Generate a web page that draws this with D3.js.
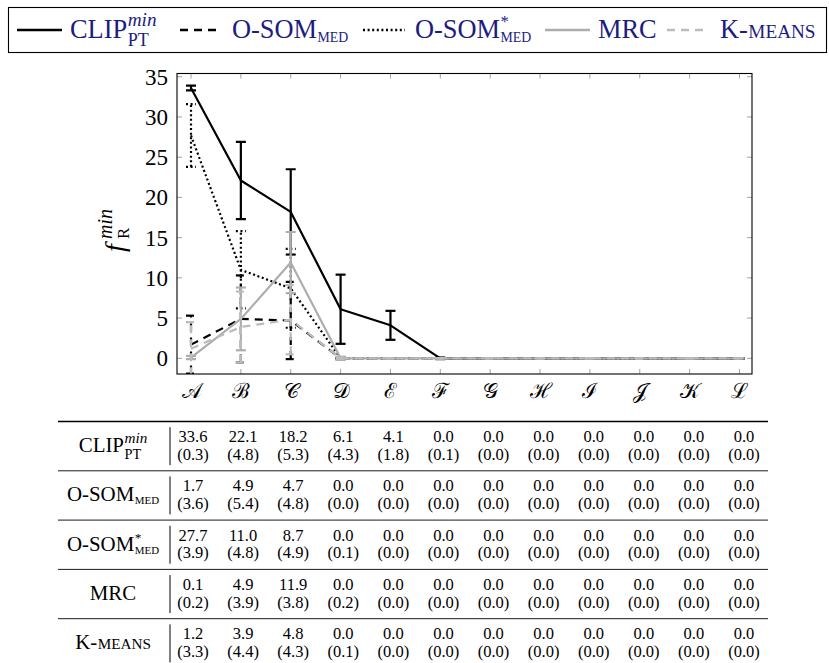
<!DOCTYPE html>
<html>
<head>
<meta charset="utf-8">
<script src="https://cdn.jsdelivr.net/npm/d3@7"></script>
<style>
  body { margin: 0; background: #fff; }
</style>
</head>
<body>
<svg id="chart" width="829" height="663"></svg>
<script>
// categories on the x axis
var categories = ["𝒜", "ℬ", "𝒞", "𝒟", "ℰ", "ℱ", "𝒢", "ℋ", "ℐ", "𝒥", "𝒦", "ℒ"];
var yTicks = [0, 5, 10, 15, 20, 25, 30, 35];

// mean values and std (the number in brackets)
var clipMean   = [33.6, 22.1, 18.2, 6.1, 4.1, 0.0, 0.0, 0.0, 0.0, 0.0, 0.0, 0.0];
var clipStd    = [0.3, 4.8, 5.3, 4.3, 1.8, 0.1, 0.0, 0.0, 0.0, 0.0, 0.0, 0.0];
var osomMean   = [1.7, 4.9, 4.7, 0.0, 0.0, 0.0, 0.0, 0.0, 0.0, 0.0, 0.0, 0.0];
var osomStd    = [3.6, 5.4, 4.8, 0.0, 0.0, 0.0, 0.0, 0.0, 0.0, 0.0, 0.0, 0.0];
var osomsMean  = [27.7, 11.0, 8.7, 0.0, 0.0, 0.0, 0.0, 0.0, 0.0, 0.0, 0.0, 0.0];
var osomsStd   = [3.9, 4.8, 4.9, 0.1, 0.0, 0.0, 0.0, 0.0, 0.0, 0.0, 0.0, 0.0];
var mrcMean    = [0.1, 4.9, 11.9, 0.0, 0.0, 0.0, 0.0, 0.0, 0.0, 0.0, 0.0, 0.0];
var mrcStd     = [0.2, 3.9, 3.8, 0.2, 0.0, 0.0, 0.0, 0.0, 0.0, 0.0, 0.0, 0.0];
var kmeansMean = [1.2, 3.9, 4.8, 0.0, 0.0, 0.0, 0.0, 0.0, 0.0, 0.0, 0.0, 0.0];
var kmeansStd  = [3.3, 4.4, 4.3, 0.1, 0.0, 0.0, 0.0, 0.0, 0.0, 0.0, 0.0, 0.0];

// label pieces: text, size, vertical shift, italic, restart at previous x (stacked)
var labelClip   = [{t: "CLIP", s: 22}, {t: "min", s: 16, dy: -10, it: true}, {t: "PT", s: 15, dy: 7, back: true}];
var labelOsom   = [{t: "O-SOM", s: 22}, {t: "MED", s: 11.5, dy: 3}];
var labelOsoms  = [{t: "O-SOM", s: 22}, {t: "*", s: 14, dy: -9}, {t: "MED", s: 11.5, dy: 3, back: true}];
var labelMrc    = [{t: "MRC", s: 22}];
var labelKmeans = [{t: "K-", s: 22}, {t: "MEANS", s: 16}];

var series = [
    {mean: clipMean,   std: clipStd,   label: labelClip,   color: "#000", dash: null},
    {mean: osomMean,   std: osomStd,   label: labelOsom,   color: "#000", dash: "8,6"},
    {mean: osomsMean,  std: osomsStd,  label: labelOsoms,  color: "#000", dash: "2,2.6"},
    {mean: mrcMean,    std: mrcStd,    label: labelMrc,    color: "#adadad", dash: null},
    {mean: kmeansMean, std: kmeansStd, label: labelKmeans, color: "#bcbcbc", dash: "8,6"}
];

var FONT = "Liberation Serif";
var svg = d3.select("#chart");

// draws text runs with sub/superscripts, returns the group
function richText(parent, x, y, runs, scale, color, anchor) {
    var g = parent.append("g");
    var cx = 0, prevX = 0, maxEnd = 0;
    runs.forEach(function(r) {
        var startX = r.back ? prevX : cx;
        var t = g.append("text")
            .attr("x", startX)
            .attr("y", (r.dy || 0) * scale)
            .style("font-family", FONT)
            .style("font-size", (r.s * scale) + "px")
            .style("font-style", r.it ? "italic" : "normal")
            .attr("fill", color)
            .text(r.t);
        var w = t.node().getComputedTextLength();
        prevX = startX;
        maxEnd = Math.max(maxEnd, startX + w);
        cx = maxEnd + 0.5;
    });
    var off = 0;
    if (anchor == "middle") off = -maxEnd / 2;
    if (anchor == "end") off = -maxEnd;
    g.attr("transform", "translate(" + (x + off) + "," + y + ")");
    return g;
}

// ---- plot ----
var plot = {left: 177, right: 752, top: 73.5, bottom: 374};

var xScale = d3.scalePoint()
    .domain(categories)
    .range([191, 739.5]);

var yScale = d3.scaleLinear()
    .domain([-1.95, 35.4])
    .range([plot.bottom, plot.top]);

svg.append("clipPath").attr("id", "clip")
    .append("rect")
    .attr("x", plot.left).attr("y", plot.top)
    .attr("width", plot.right - plot.left)
    .attr("height", plot.bottom - plot.top);

// ticks inside the box
var tickG = svg.append("g").attr("stroke", "#8a8a8a").attr("stroke-width", 0.8);
categories.forEach(function(c) {
    tickG.append("line").attr("x1", xScale(c)).attr("x2", xScale(c))
        .attr("y1", plot.bottom).attr("y2", plot.bottom - 5);
    tickG.append("line").attr("x1", xScale(c)).attr("x2", xScale(c))
        .attr("y1", plot.top).attr("y2", plot.top + 5);
});
yTicks.forEach(function(v) {
    tickG.append("line").attr("x1", plot.left).attr("x2", plot.left + 5)
        .attr("y1", yScale(v)).attr("y2", yScale(v));
    tickG.append("line").attr("x1", plot.right).attr("x2", plot.right - 5)
        .attr("y1", yScale(v)).attr("y2", yScale(v));
});

// y axis labels
svg.append("g")
    .attr("transform", "translate(" + plot.left + ",0)")
    .call(d3.axisLeft(yScale).tickValues(yTicks).tickSize(0).tickPadding(9))
    .call(function(g) { g.select(".domain").remove(); })
    .selectAll("text")
    .style("font-family", FONT)
    .style("font-size", "23px")
    .attr("fill", "#000");

// x axis labels
svg.append("g")
    .attr("transform", "translate(0," + plot.bottom + ")")
    .call(d3.axisBottom(xScale).tickSize(0).tickPadding(9))
    .call(function(g) { g.select(".domain").remove(); })
    .selectAll("text")
    .style("font-family", FONT)
    .style("font-size", "21px")
    .attr("fill", "#000");

// y axis title f^min_R
var yl = svg.append("g").attr("transform", "translate(124,229) rotate(-90)");
yl.append("text").attr("x", -23).attr("y", 0)
    .style("font-family", FONT)
    .style("font-size", "28px").style("font-style", "italic").text("f");
yl.append("text").attr("x", -10).attr("y", -12)
    .style("font-family", FONT)
    .style("font-size", "20px").style("font-style", "italic").text("min");
yl.append("text").attr("x", -10).attr("y", 5)
    .style("font-family", FONT)
    .style("font-size", "17px").text("R");

// lines and error bars
var plotArea = svg.append("g").attr("clip-path", "url(#clip)");
var line = d3.line()
    .x(function(d, i) { return xScale(categories[i]); })
    .y(function(d) { return yScale(d); });

series.forEach(function(s) {
    var g = plotArea.append("g")
        .attr("stroke", s.color)
        .attr("stroke-width", 2.2)
        .attr("fill", "none")
        .attr("stroke-dasharray", s.dash);
    s.mean.forEach(function(m, i) {
        var x = xScale(categories[i]);
        var lo = yScale(m - s.std[i]), hi = yScale(m + s.std[i]);
        g.append("line").attr("x1", x).attr("x2", x).attr("y1", lo).attr("y2", hi);
        g.append("line").attr("x1", x - 5).attr("x2", x + 5).attr("y1", lo).attr("y2", lo)
            .attr("stroke-dasharray", null);
        g.append("line").attr("x1", x - 5).attr("x2", x + 5).attr("y1", hi).attr("y2", hi)
            .attr("stroke-dasharray", null);
    });
    g.append("path").datum(s.mean).attr("d", line).attr("stroke-linejoin", "round");
});

// frame
svg.append("rect")
    .attr("x", plot.left).attr("y", plot.top)
    .attr("width", plot.right - plot.left).attr("height", plot.bottom - plot.top)
    .attr("fill", "none").attr("stroke", "#000").attr("stroke-width", 1.1);

// ---- legend ----
svg.append("rect")
    .attr("x", 8.5).attr("y", 7.5).attr("width", 818).attr("height", 45)
    .attr("fill", "none").attr("stroke", "#000").attr("stroke-width", 1.1);

var legendPos = [
    {x1: 17, x2: 62, tx: 70},
    {x1: 180, x2: 220, tx: 232},
    {x1: 363, x2: 405, tx: 415},
    {x1: 545, x2: 590, tx: 598},
    {x1: 667, x2: 709, tx: 720}
];
series.forEach(function(s, i) {
    var p = legendPos[i];
    svg.append("line")
        .attr("x1", p.x1).attr("x2", p.x2).attr("y1", 30).attr("y2", 30)
        .attr("stroke", s.color).attr("stroke-width", 2.4)
        .attr("stroke-dasharray", s.dash);
    richText(svg, p.tx, 38, s.label, 1.2, "#1c1c80", "start");
});

// ---- table ----
var colX = d3.scalePoint().domain(categories).range([193, 744]);
var rowTop = 421.5, rowH = 49.3;

svg.append("line").attr("x1", 58).attr("x2", 768)
    .attr("y1", rowTop).attr("y2", rowTop)
    .attr("stroke", "#000").attr("stroke-width", 1.3);

series.forEach(function(s, r) {
    var cy = rowTop + rowH * (r + 0.5);
    richText(svg, 113, cy + 6, s.label, 0.95, "#000", "middle");
    svg.append("line").attr("x1", 170).attr("x2", 170)
        .attr("y1", cy - 19).attr("y2", cy + 19)
        .attr("stroke", "#000").attr("stroke-width", 1);
    s.mean.forEach(function(m, i) {
        svg.append("text").attr("x", colX(categories[i])).attr("y", cy - 4)
            .attr("text-anchor", "middle")
            .style("font-family", FONT).style("font-size", "16.5px")
            .text(m.toFixed(1));
        svg.append("text").attr("x", colX(categories[i])).attr("y", cy + 13.5)
            .attr("text-anchor", "middle")
            .style("font-family", FONT).style("font-size", "16.5px")
            .text("(" + s.std[i].toFixed(1) + ")");
    });
    svg.append("line").attr("x1", 58).attr("x2", 768)
        .attr("y1", rowTop + rowH * (r + 1)).attr("y2", rowTop + rowH * (r + 1))
        .attr("stroke", "#000").attr("stroke-width", r == series.length - 1 ? 1.3 : 0.9);
});
</script>
</body>
</html>
